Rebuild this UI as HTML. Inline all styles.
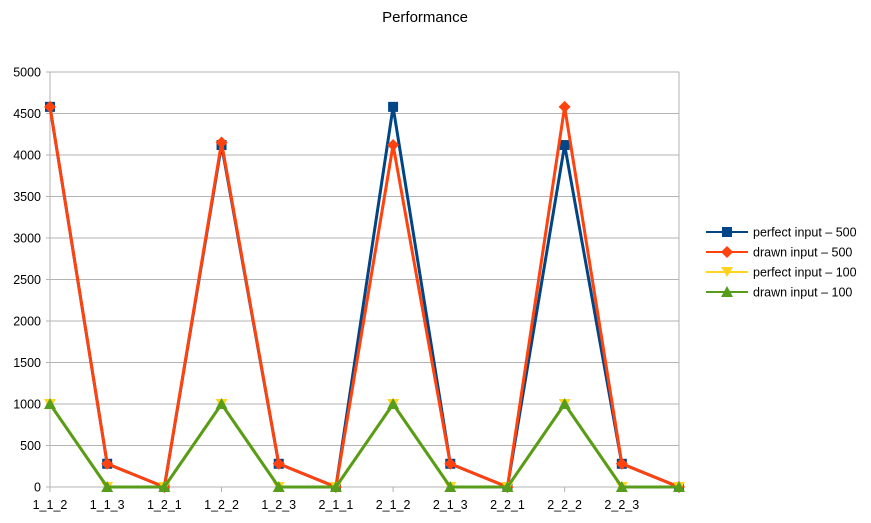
<!DOCTYPE html>
<html><head><meta charset="utf-8"><style>
body{margin:0;background:#fff;}
svg{display:block;font-family:"Liberation Sans",sans-serif;}
</style></head><body>
<svg id="chart" width="871" height="523">
<rect width="871" height="523" fill="#fff"/>
<text x="425" y="22" text-anchor="middle" font-size="15" fill="#000">Performance</text>
<g id="grid"></g><g id="axes"></g><g id="series"></g><g id="legend"></g>
</svg>
<script>
const categories=["1_1_2","1_1_3","1_2_1","1_2_2","1_2_3","2_1_1","2_1_2","2_1_3","2_2_1","2_2_2","2_2_3",""];
const perfect500=[4580,280,0,4120,280,0,4580,280,0,4120,280,0];
const drawn500=[4580,280,0,4150,280,0,4120,280,0,4580,280,0];
const perfect100=[1000,0,0,1000,0,0,1000,0,0,1000,0,0];
const drawn100=[1000,0,0,1000,0,0,1000,0,0,1000,0,0];
const yTicks=[0,500,1000,1500,2000,2500,3000,3500,4000,4500,5000];
const seriesNames=["perfect input – 500","drawn input – 500","perfect input – 100","drawn input – 100"];

const NS="http://www.w3.org/2000/svg";
const X0=50,X1=679,Y0=487,Y1=72;
function xs(i){return X0+i*(X1-X0)/(categories.length-1);}
function ys(v){return Y0-(v-0)/(5000)*(Y0-Y1);}
function mk(tag,attrs,parent){const e=document.createElementNS(NS,tag);for(const k in attrs)e.setAttribute(k,attrs[k]);parent.appendChild(e);return e;}
const grid=document.getElementById('grid'),axes=document.getElementById('axes'),ser=document.getElementById('series'),leg=document.getElementById('legend');
yTicks.forEach(v=>{
  const l=mk('line',{x1:X0-4,x2:X1,y1:ys(v),y2:ys(v),stroke:'#b3b3b3','stroke-width':1},grid);
  
  
  const t=mk('text',{x:X0-9,y:ys(v)+4.5,'text-anchor':'end','font-size':12.5,fill:'#000'},axes);
  t.textContent=v;
  
  
});
const va=mk('line',{x1:X0,x2:X0,y1:Y1,y2:Y0,stroke:'#b3b3b3'},axes);


const vr=mk('line',{x1:X1,x2:X1,y1:Y1,y2:Y0,stroke:'#b3b3b3'},axes);


categories.forEach((c,i)=>{
  const tk=mk('line',{x1:xs(i),x2:xs(i),y1:Y0,y2:Y0+5,stroke:'#b3b3b3'},axes);
  
  
  if(c){const t=mk('text',{x:xs(i),y:Y0+22,'text-anchor':'middle','font-size':12.5,fill:'#000'},axes);
  t.textContent=c;
  
  }
});
function marker(type,x,y,color,parent){
  let e;
  if(type==='square')e=mk('rect',{x:x-5,y:y-5,width:10,height:10,fill:color},parent);
  else if(type==='diamond')e=mk('polygon',{points:`${x},${y-6} ${x+6},${y} ${x},${y+6} ${x-6},${y}`,fill:color},parent);
  else if(type==='down')e=mk('polygon',{points:`${x-6},${y-5} ${x+6},${y-5} ${x},${y+5}`,fill:color},parent);
  else e=mk('polygon',{points:`${x-6},${y+5} ${x+6},${y+5} ${x},${y-6}`,fill:color},parent);
  return e;
}
const all=[[perfect500,'#004586','square'],[drawn500,'#ff420e','diamond'],[perfect100,'#ffd320','down'],[drawn100,'#579d1c','up']];
all.forEach(([vals,col,m],si)=>{
  const g=mk('g',{},ser);
  
  
  const p=mk('polyline',{points:vals.map((v,i)=>xs(i)+','+ys(v)).join(' '),fill:'none',stroke:col,'stroke-width':3,'stroke-linejoin':'round'},g);
  
  
  vals.forEach((v,i)=>{const e=marker(m,xs(i),ys(v),col,g);
    
    });
  const ly=232+si*20;
  const lg=mk('g',{},leg);
  
  
  mk('line',{x1:706,x2:748,y1:ly,y2:ly,stroke:col,'stroke-width':2},lg);
  marker(m,727,ly,col,lg);
  const t=mk('text',{x:753,y:ly+4.5,'font-size':12.5,fill:'#000'},lg);
  t.textContent=seriesNames[si];
});
</script>
</body></html>
